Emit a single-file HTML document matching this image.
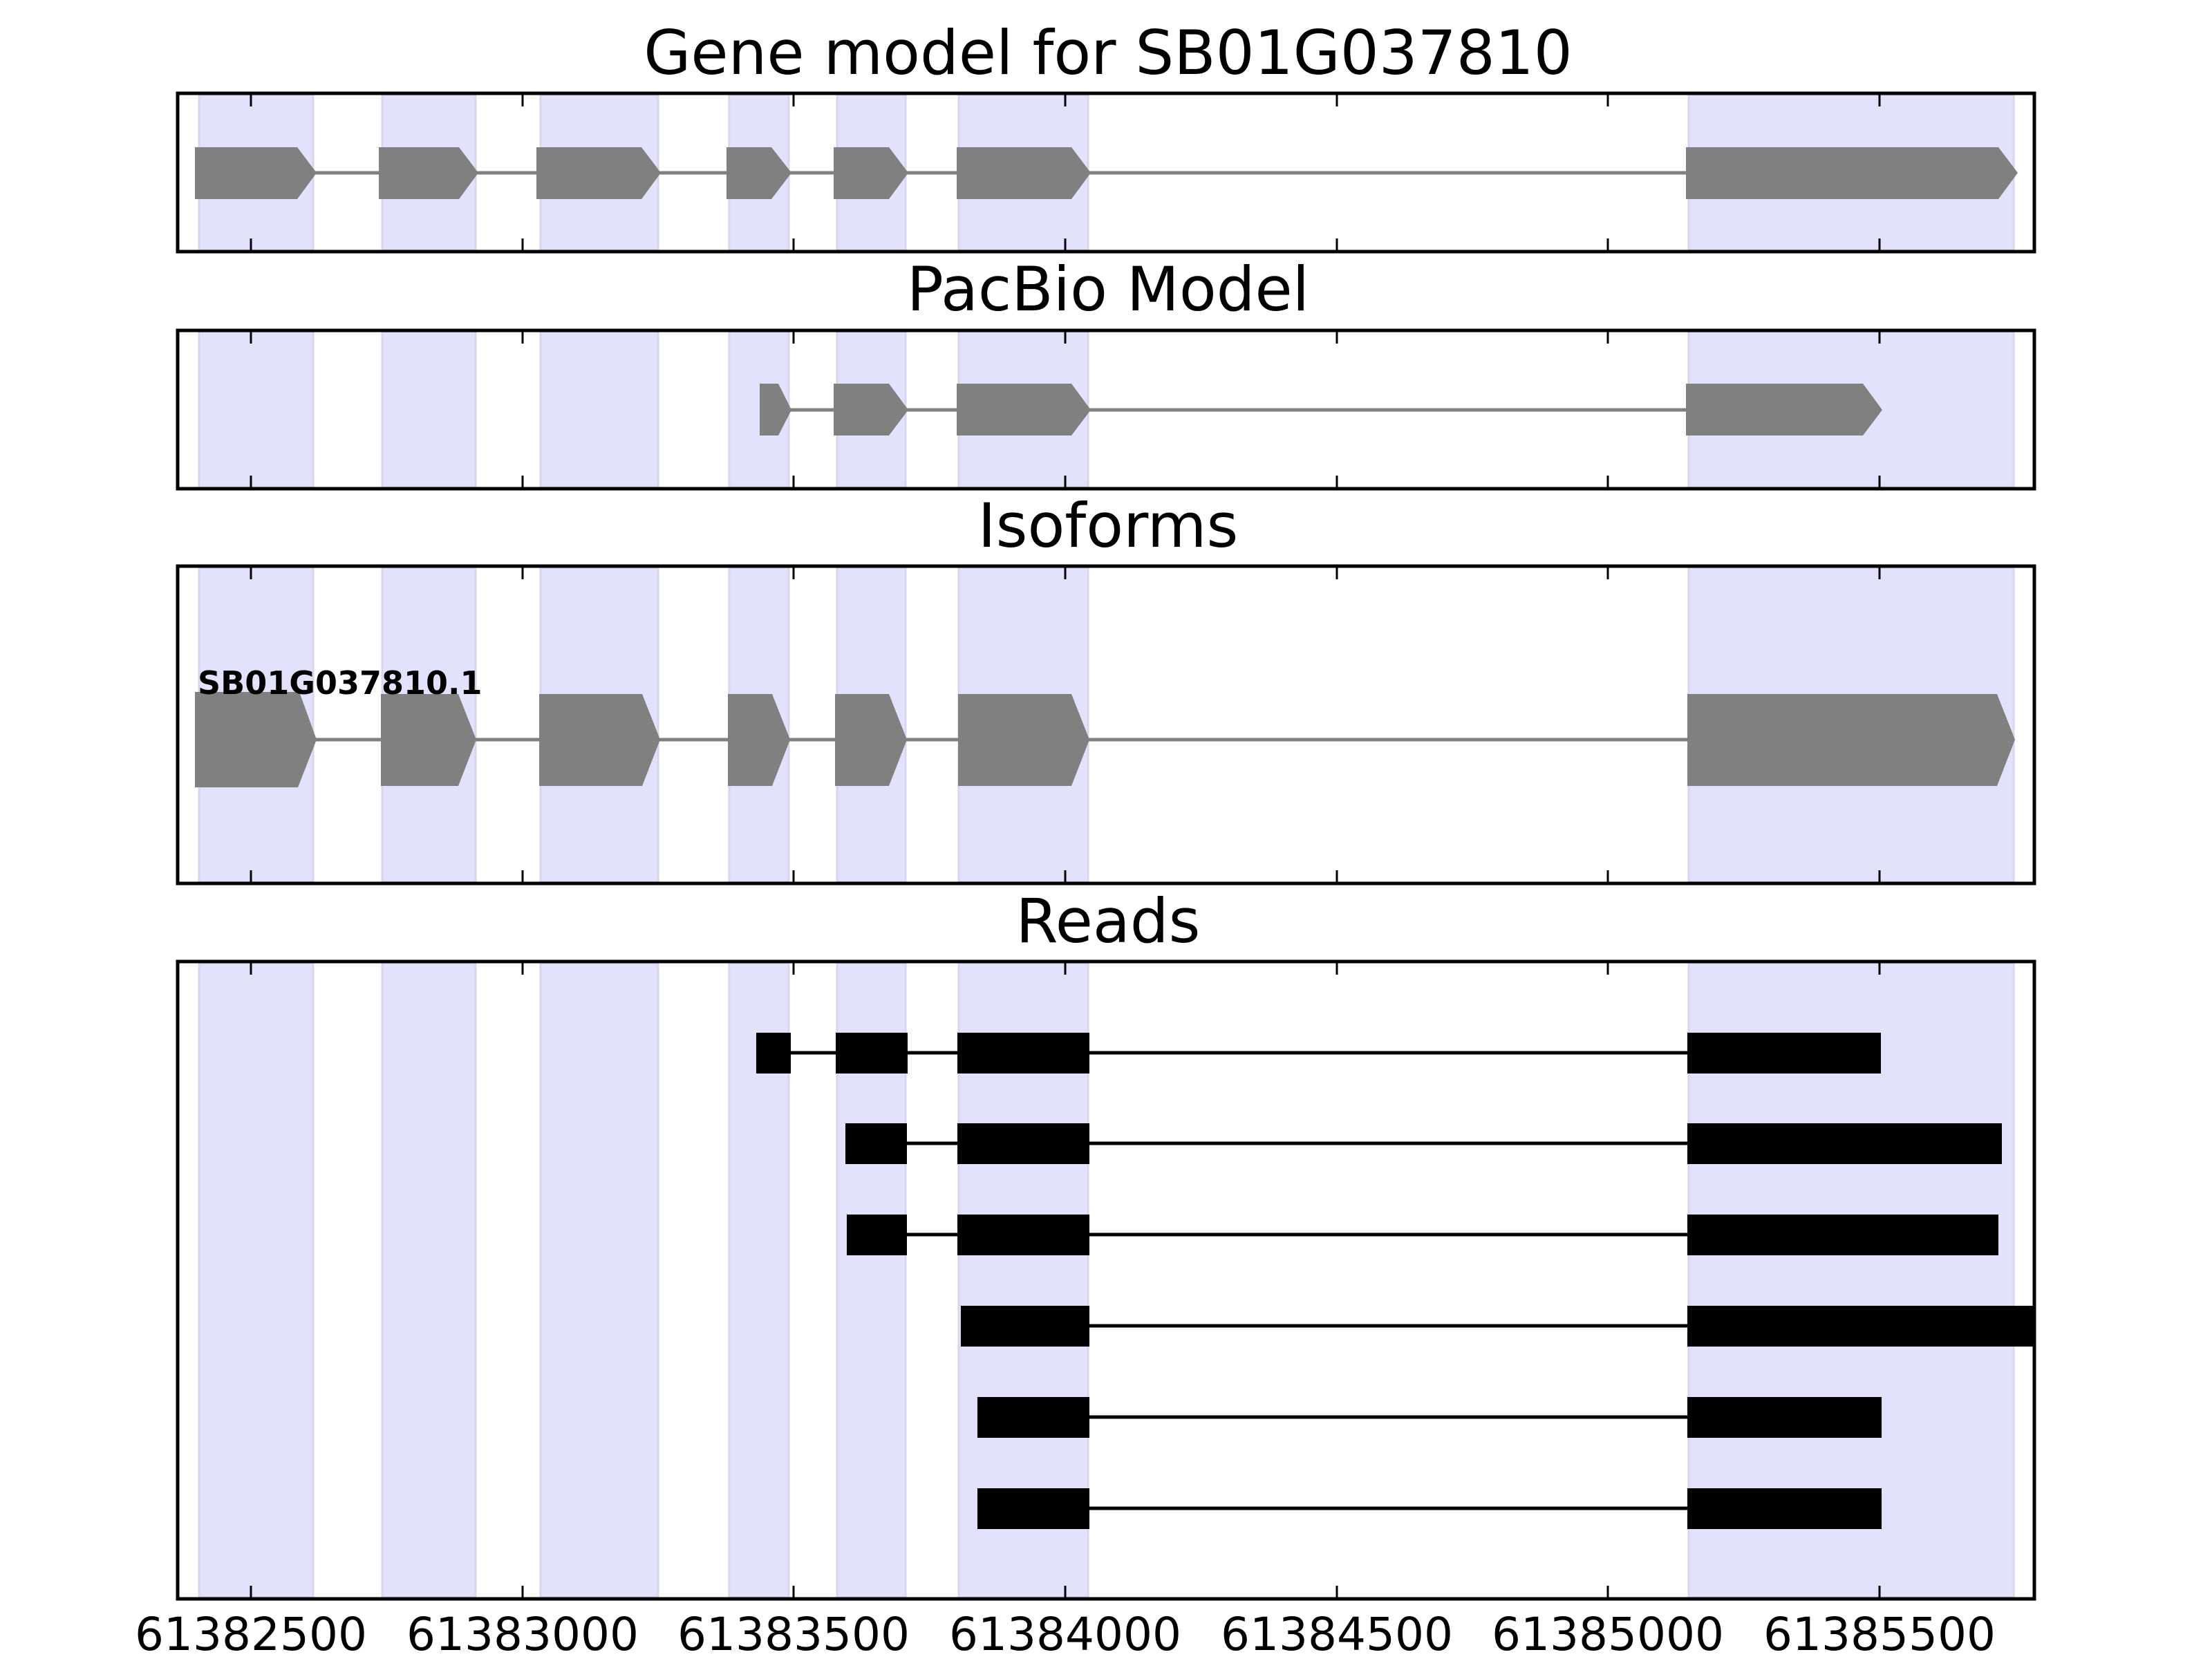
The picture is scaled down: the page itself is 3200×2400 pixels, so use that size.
<!DOCTYPE html>
<html><head><meta charset="utf-8"><style>
html,body{margin:0;padding:0;background:#fff}
svg{display:block}
text{font-family:"DejaVu Sans","Liberation Sans",sans-serif}
</style></head><body>
<svg width="3200" height="2400" viewBox="0 0 3200 2400" xmlns="http://www.w3.org/2000/svg">
<defs>
<g id="shade">
<rect x="288" y="0" width="165" height="1" />
</g>
</defs>
<!-- Panels: y ranges -->
<!-- Panel 1: 135-364, Panel 2: 478-707, Panel 3: 819-1278, Panel 4: 1391-2313 -->
<g fill="#e2e2fc" stroke="#d6d6ee" stroke-width="3">
<!-- panel1 -->
<rect x="288" y="137" width="165" height="225"/><rect x="553" y="137" width="135" height="225"/><rect x="782" y="137" width="170" height="225"/><rect x="1055" y="137" width="86" height="225"/><rect x="1211" y="137" width="99" height="225"/><rect x="1387" y="137" width="187" height="225"/><rect x="2443" y="137" width="470" height="225"/>
<!-- panel2 -->
<rect x="288" y="480" width="165" height="225"/><rect x="553" y="480" width="135" height="225"/><rect x="782" y="480" width="170" height="225"/><rect x="1055" y="480" width="86" height="225"/><rect x="1211" y="480" width="99" height="225"/><rect x="1387" y="480" width="187" height="225"/><rect x="2443" y="480" width="470" height="225"/>
<!-- panel3 -->
<rect x="288" y="821" width="165" height="455"/><rect x="553" y="821" width="135" height="455"/><rect x="782" y="821" width="170" height="455"/><rect x="1055" y="821" width="86" height="455"/><rect x="1211" y="821" width="99" height="455"/><rect x="1387" y="821" width="187" height="455"/><rect x="2443" y="821" width="470" height="455"/>
<!-- panel4 -->
<rect x="288" y="1393" width="165" height="918"/><rect x="553" y="1393" width="135" height="918"/><rect x="782" y="1393" width="170" height="918"/><rect x="1055" y="1393" width="86" height="918"/><rect x="1211" y="1393" width="99" height="918"/><rect x="1387" y="1393" width="187" height="918"/><rect x="2443" y="1393" width="470" height="918"/>
</g>

<!-- Panel 1 gene model -->
<line x1="456" y1="250" x2="2440" y2="250" stroke="#808080" stroke-width="5"/>
<g fill="#808080">
<polygon points="282,213 430,213 458,250 430,288 282,288"/>
<polygon points="548,213 664,213 692,250 664,288 548,288"/>
<polygon points="776,213 928,213 956,250 928,288 776,288"/>
<polygon points="1051,213 1116,213 1145,250 1116,288 1051,288"/>
<polygon points="1206,213 1286,213 1314,250 1286,288 1206,288"/>
<polygon points="1384,213 1550,213 1578,250 1550,288 1384,288"/>
<polygon points="2439,213 2891,213 2919,250 2891,288 2439,288"/>
</g>

<!-- Panel 2 PacBio -->
<line x1="1140" y1="593" x2="2440" y2="593" stroke="#808080" stroke-width="5"/>
<g fill="#808080">
<polygon points="1099,555 1126,555 1145,593 1126,630 1099,630"/>
<polygon points="1206,555 1286,555 1314,593 1286,630 1206,630"/>
<polygon points="1384,555 1550,555 1578,593 1550,630 1384,630"/>
<polygon points="2439,555 2695,555 2723,593 2695,630 2439,630"/>
</g>

<!-- Panel 3 Isoforms -->
<line x1="456" y1="1070" x2="2442" y2="1070" stroke="#808080" stroke-width="5"/>
<g fill="#808080">
<polygon points="282,1001 433,1001 458,1070 431,1139 282,1139"/>
<polygon points="551,1004 663,1004 689,1070 663,1137 551,1137"/>
<polygon points="780,1004 929,1004 955,1070 929,1137 780,1137"/>
<polygon points="1053,1004 1117,1004 1143,1070 1117,1137 1053,1137"/>
<polygon points="1208,1004 1286,1004 1312,1070 1286,1137 1208,1137"/>
<polygon points="1386,1004 1550,1004 1576,1070 1550,1137 1386,1137"/>
<polygon points="2441,1004 2889,1004 2915,1070 2889,1137 2441,1137"/>
</g>
<text x="286" y="1004" font-size="46" font-weight="bold" fill="#000">SB01G037810.1</text>

<!-- Panel 4 Reads -->
<g stroke="#000" stroke-width="5">
<line x1="1094" y1="1523" x2="2441" y2="1523"/>
<line x1="1223" y1="1654" x2="2441" y2="1654"/>
<line x1="1225" y1="1786" x2="2441" y2="1786"/>
<line x1="1390" y1="1918" x2="2441" y2="1918"/>
<line x1="1414" y1="2050" x2="2441" y2="2050"/>
<line x1="1414" y1="2182" x2="2441" y2="2182"/>
</g>
<g fill="#000">
<rect x="1094" y="1494" width="50" height="59"/><rect x="1209" y="1494" width="104" height="59"/><rect x="1385" y="1494" width="191" height="59"/><rect x="2441" y="1494" width="280" height="59"/>
<rect x="1223" y="1625" width="89" height="59"/><rect x="1385" y="1625" width="191" height="59"/><rect x="2441" y="1625" width="455" height="59"/>
<rect x="1225" y="1757" width="87" height="59"/><rect x="1385" y="1757" width="191" height="59"/><rect x="2441" y="1757" width="450" height="59"/>
<rect x="1390" y="1889" width="186" height="59"/><rect x="2441" y="1889" width="502" height="59"/>
<rect x="1414" y="2021" width="162" height="59"/><rect x="2441" y="2021" width="281" height="59"/>
<rect x="1414" y="2153" width="162" height="59"/><rect x="2441" y="2153" width="281" height="59"/>
</g>

<!-- Frames -->
<g fill="none" stroke="#000" stroke-width="5">
<rect x="257" y="135" width="2686" height="229"/>
<rect x="257" y="478" width="2686" height="229"/>
<rect x="257" y="819" width="2686" height="459"/>
<rect x="257" y="1391" width="2686" height="922"/>
</g>
<!-- Ticks -->
<g stroke="#000" stroke-width="3">
<path d="M363,135v19M756,135v19M1148,135v19M1541,135v19M1934,135v19M2326,135v19M2719,135v19
M363,364v-19M756,364v-19M1148,364v-19M1541,364v-19M1934,364v-19M2326,364v-19M2719,364v-19
M363,478v19M756,478v19M1148,478v19M1541,478v19M1934,478v19M2326,478v19M2719,478v19
M363,707v-19M756,707v-19M1148,707v-19M1541,707v-19M1934,707v-19M2326,707v-19M2719,707v-19
M363,819v19M756,819v19M1148,819v19M1541,819v19M1934,819v19M2326,819v19M2719,819v19
M363,1278v-19M756,1278v-19M1148,1278v-19M1541,1278v-19M1934,1278v-19M2326,1278v-19M2719,1278v-19
M363,1391v19M756,1391v19M1148,1391v19M1541,1391v19M1934,1391v19M2326,1391v19M2719,1391v19
M363,2313v-19M756,2313v-19M1148,2313v-19M1541,2313v-19M1934,2313v-19M2326,2313v-19M2719,2313v-19"/>
</g>

<!-- Titles -->
<g font-size="88" text-anchor="middle" fill="#000">
<text x="1603" y="107">Gene model for SB01G037810</text>
<text x="1603" y="449">PacBio Model</text>
<text x="1603" y="791">Isoforms</text>
<text x="1603" y="1363">Reads</text>
</g>
<!-- Tick labels -->
<g font-size="66" text-anchor="middle" fill="#000">
<text x="363" y="2387">61382500</text>
<text x="756" y="2387">61383000</text>
<text x="1148" y="2387">61383500</text>
<text x="1541" y="2387">61384000</text>
<text x="1934" y="2387">61384500</text>
<text x="2326" y="2387">61385000</text>
<text x="2719" y="2387">61385500</text>
</g>
</svg>
</body></html>
